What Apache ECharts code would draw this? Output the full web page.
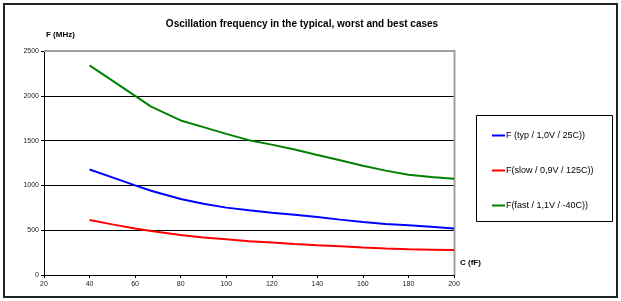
<!DOCTYPE html>
<html>
<head>
<meta charset="utf-8">
<script src="https://cdn.jsdelivr.net/npm/echarts@6/dist/echarts.min.js"></script>
<style>
html, body { margin: 0; padding: 0; background: #fff; }
#chart { width: 621px; height: 301px; }
</style>
</head>
<body>
<div id="chart"></div>
<script>
// C (fF) sample points
var capValues = [40, 50, 60, 67, 80, 90, 100, 110, 120, 130, 140, 150, 160, 170, 180, 190, 200];
// F (MHz)
var typFreq  = [1178, 1090, 1000, 940, 848, 795, 752, 722, 695, 672, 648, 618, 592, 570, 556, 538, 520];
var slowFreq = [614, 565, 518, 490, 446, 418, 398, 378, 362, 346, 333, 322, 308, 297, 288, 283, 278];
var fastFreq = [2340, 2170, 2000, 1880, 1725, 1650, 1575, 1505, 1455, 1400, 1340, 1280, 1220, 1165, 1120, 1095, 1075];
var seriesNames = ['F (typ / 1,0V / 25C))', 'F(slow / 0,9V / 125C))', 'F(fast / 1,1V / -40C))'];
var seriesColors = ['#0000ff', '#ff0000', '#008000'];

function toPairs(ys){
    var out = [];
    for(var i = 0; i < capValues.length; i++){
        out.push([capValues[i], ys[i]]);
    }
    return out;
}

var chart = echarts.init(document.getElementById('chart'), null, {renderer: 'canvas'});
var fontFam = '"Liberation Sans", Arial, sans-serif';

var option = {
    animation: false,
    textStyle: { fontFamily: fontFam },
    title: {
        text: 'Oscillation frequency in the typical, worst and best cases',
        left: 297,
        textAlign: 'center',
        top: 14,
        textStyle: { fontSize: 10, fontWeight: 'bold', color: '#000', fontFamily: fontFam }
    },
    legend: {
        orient: 'vertical',
        left: 487,
        top: 126,
        itemGap: 26,
        itemWidth: 13,
        itemHeight: 2,
        icon: 'rect',
        textStyle: { fontSize: 9, color: '#000', padding: [0, 0, 0, -4] },
        data: seriesNames
    },
    grid: { left: 44, right: 167, top: 51, bottom: 26 },
    xAxis: {
        type: 'value',
        min: 20, max: 200, interval: 20,
        name: 'C (fF)',
        nameLocation: 'end',
        nameGap: 6,
        nameTextStyle: { fontSize: 8, fontWeight: 'bold', color: '#000', verticalAlign: 'bottom', padding: [0, 0, 8, 0] },
        axisLine: { lineStyle: { color: '#000', width: 1 } },
        axisTick: { length: 3, lineStyle: { color: '#000' } },
        axisLabel: { fontSize: 7, color: '#222', margin: 6 },
        splitLine: { show: false }
    },
    yAxis: {
        type: 'value',
        min: 0, max: 2500, interval: 500,
        name: 'F (MHz)',
        nameLocation: 'end',
        nameGap: 12,
        nameTextStyle: { fontSize: 8, fontWeight: 'bold', color: '#000', align: 'left', padding: [0, 0, 0, 2] },
        axisLine: { show: true, lineStyle: { color: '#000', width: 1 } },
        axisTick: { show: true, length: 3, lineStyle: { color: '#000' } },
        axisLabel: { fontSize: 7, color: '#222', margin: 5, formatter: function(v){ return String(v); } },
        splitLine: { show: true, lineStyle: { color: '#000', width: 1 } }
    },
    graphic: [
        // outer frame
        { type: 'rect', shape: { x: 4, y: 4, width: 613, height: 293 }, style: { fill: null, stroke: '#222', lineWidth: 2 }, z: 0 },
        // plot border top/right
        { type: 'polyline', shape: { points: [[44, 51], [454.5, 51], [454.5, 275]] }, style: { fill: null, stroke: '#a0a0a0', lineWidth: 2 }, z: 1 },
        // legend box
        { type: 'rect', shape: { x: 476.5, y: 115.5, width: 136, height: 106 }, style: { fill: null, stroke: '#000', lineWidth: 1 }, z: 1 }
    ],
    series: [
        { name: seriesNames[0], type: 'line', data: toPairs(typFreq), showSymbol: false, lineStyle: { width: 2, color: seriesColors[0] }, itemStyle: { color: seriesColors[0] }, z: 3 },
        { name: seriesNames[1], type: 'line', data: toPairs(slowFreq), showSymbol: false, lineStyle: { width: 2, color: seriesColors[1] }, itemStyle: { color: seriesColors[1] }, z: 3 },
        { name: seriesNames[2], type: 'line', data: toPairs(fastFreq), showSymbol: false, lineStyle: { width: 2, color: seriesColors[2] }, itemStyle: { color: seriesColors[2] }, z: 3 }
    ]
};
chart.setOption(option);
</script>
</body>
</html>
